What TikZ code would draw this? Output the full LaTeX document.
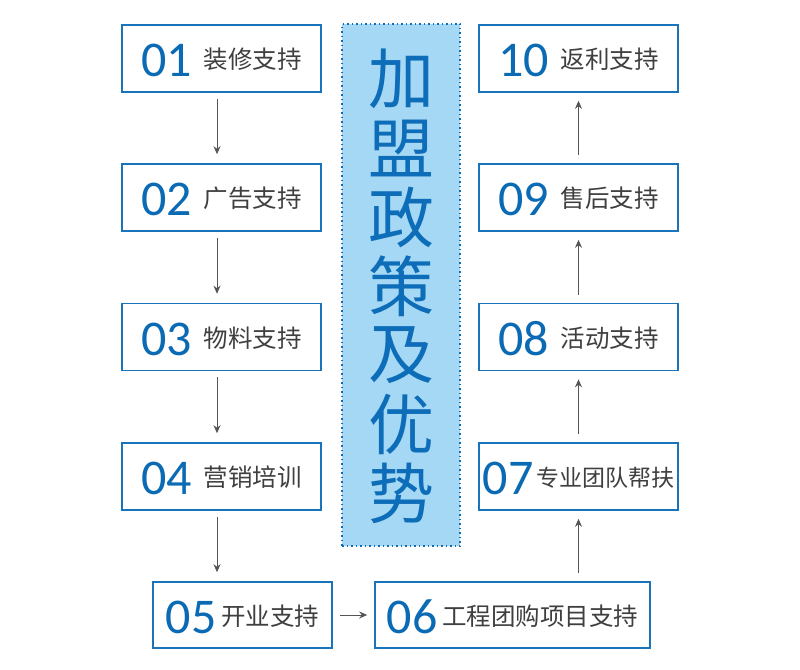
\documentclass[tikz,border=0pt]{standalone}
\usepackage{fontspec}
\newfontfamily\cjk{Noto Sans CJK SC}
\newfontfamily\numf{Carlito}
\usetikzlibrary{arrows.meta}
\definecolor{boxblue}{HTML}{1A74BB}
\definecolor{numblue}{HTML}{0A6AB4}
\definecolor{txtgray}{HTML}{3F3F3F}
\definecolor{panelfill}{HTML}{A5D8F4}
\definecolor{panelblue}{HTML}{0D6DB8}
\definecolor{arrowgray}{HTML}{555555}
\tikzset{
  stepbox/.style={draw=boxblue, line width=1.6pt, fill=white, inner sep=0pt, minimum height=67pt},
  steptext/.style={anchor=base, inner sep=0pt},
  flow/.style={draw=arrowgray, line width=0.9pt, -{Stealth[length=8pt,width=7pt]}, shorten <=6pt, shorten >=9pt},
  panel/.style={draw=panelblue, fill=panelfill, line width=1.5pt, dash pattern=on 1.5pt off 3pt, inner sep=0pt},
  paneltext/.style={text=panelblue, font=\cjk\fontsize{66}{66}\selectfont, inner sep=0pt}
}
\newcommand{\steplabel}[3]{{\color{numblue}\numf\fontsize{50}{50}\selectfont #1}\hspace{#3}\raisebox{8pt}{\color{txtgray}\cjk\fontsize{24.5}{24.5}\selectfont #2}}
\begin{document}
\begin{tikzpicture}[x=1pt,y=-1pt]
\useasboundingbox (0,0) rectangle (800,669);
% center panel
\node[panel, minimum width=118pt, minimum height=522pt] (panel) at (401,285) {};
\foreach \ch [count=\i] in {加,盟,政,策,及,优,势} {
  \node[paneltext] (c\i) at (401,{79+69*(\i-1)}) {\ch};
}
% left column
\node[stepbox, minimum width=199pt] (b01) at (221.5,58.5) {};
\node[stepbox, minimum width=199pt] (b02) at (221.5,197.5) {};
\node[stepbox, minimum width=199pt] (b03) at (221.5,337) {};
\node[stepbox, minimum width=199pt] (b04) at (221.5,476.5) {};
% right column
\node[stepbox, minimum width=199pt] (b10) at (578.5,58.5) {};
\node[stepbox, minimum width=199pt] (b09) at (578.5,197.5) {};
\node[stepbox, minimum width=199pt] (b08) at (578.5,337) {};
\node[stepbox, minimum width=199pt] (b07) at (578.5,476.5) {};
% bottom row
\node[stepbox, minimum width=179pt, minimum height=66pt] (b05) at (242.5,615) {};
\node[stepbox, minimum width=275pt, minimum height=66pt] (b06) at (512.5,615) {};
% arrow guide coordinates
\coordinate (lx) at (217,0);
\coordinate (rx) at (578.5,0);
% labels
\node[steptext] (t01) at (221.5,76.5) {\steplabel{01}{装修支持}{12pt}};
\node[steptext] (t02) at (221.5,215.5) {\steplabel{02}{广告支持}{12pt}};
\node[steptext] (t03) at (221.5,355) {\steplabel{03}{物料支持}{12pt}};
\node[steptext] (t04) at (221.5,494.5) {\steplabel{04}{营销培训}{12pt}};
\node[steptext] (t10) at (578.5,76.5) {\steplabel{10}{返利支持}{12pt}};
\node[steptext] (t09) at (578.5,215.5) {\steplabel{09}{售后支持}{12pt}};
\node[steptext] (t08) at (578.5,355) {\steplabel{08}{活动支持}{12pt}};
\node[steptext] (t07) at (578.5,494.5) {{\color{numblue}\numf\fontsize{50}{50}\selectfont 07}\hspace{3pt}\raisebox{8pt}{\color{txtgray}\cjk\fontsize{23}{23}\selectfont 专业团队帮扶}};
\node[steptext] (t05) at (242.5,633) {\steplabel{05}{开业支持}{5pt}};
\node[steptext] (t06) at (512.5,633) {\steplabel{06}{工程团购项目支持}{5pt}};
% connectors
\draw[flow] (lx |- b01.south) -- (lx |- b02.north);
\draw[flow] (lx |- b02.south) -- (lx |- b03.north);
\draw[flow] (lx |- b03.south) -- (lx |- b04.north);
\draw[flow] (lx |- b04.south) -- (lx |- b05.north);
\draw[flow, shorten <=7pt, shorten >=7pt] (b05) -- (b06);
\draw[flow, shorten <=8pt, shorten >=8pt] (rx |- b06.north) -- (rx |- b07.south);
\draw[flow, shorten <=8pt, shorten >=8pt] (rx |- b07.north) -- (rx |- b08.south);
\draw[flow, shorten <=8pt, shorten >=8pt] (rx |- b08.north) -- (rx |- b09.south);
\draw[flow, shorten <=8pt, shorten >=8pt] (rx |- b09.north) -- (rx |- b10.south);
\end{tikzpicture}
\end{document}
